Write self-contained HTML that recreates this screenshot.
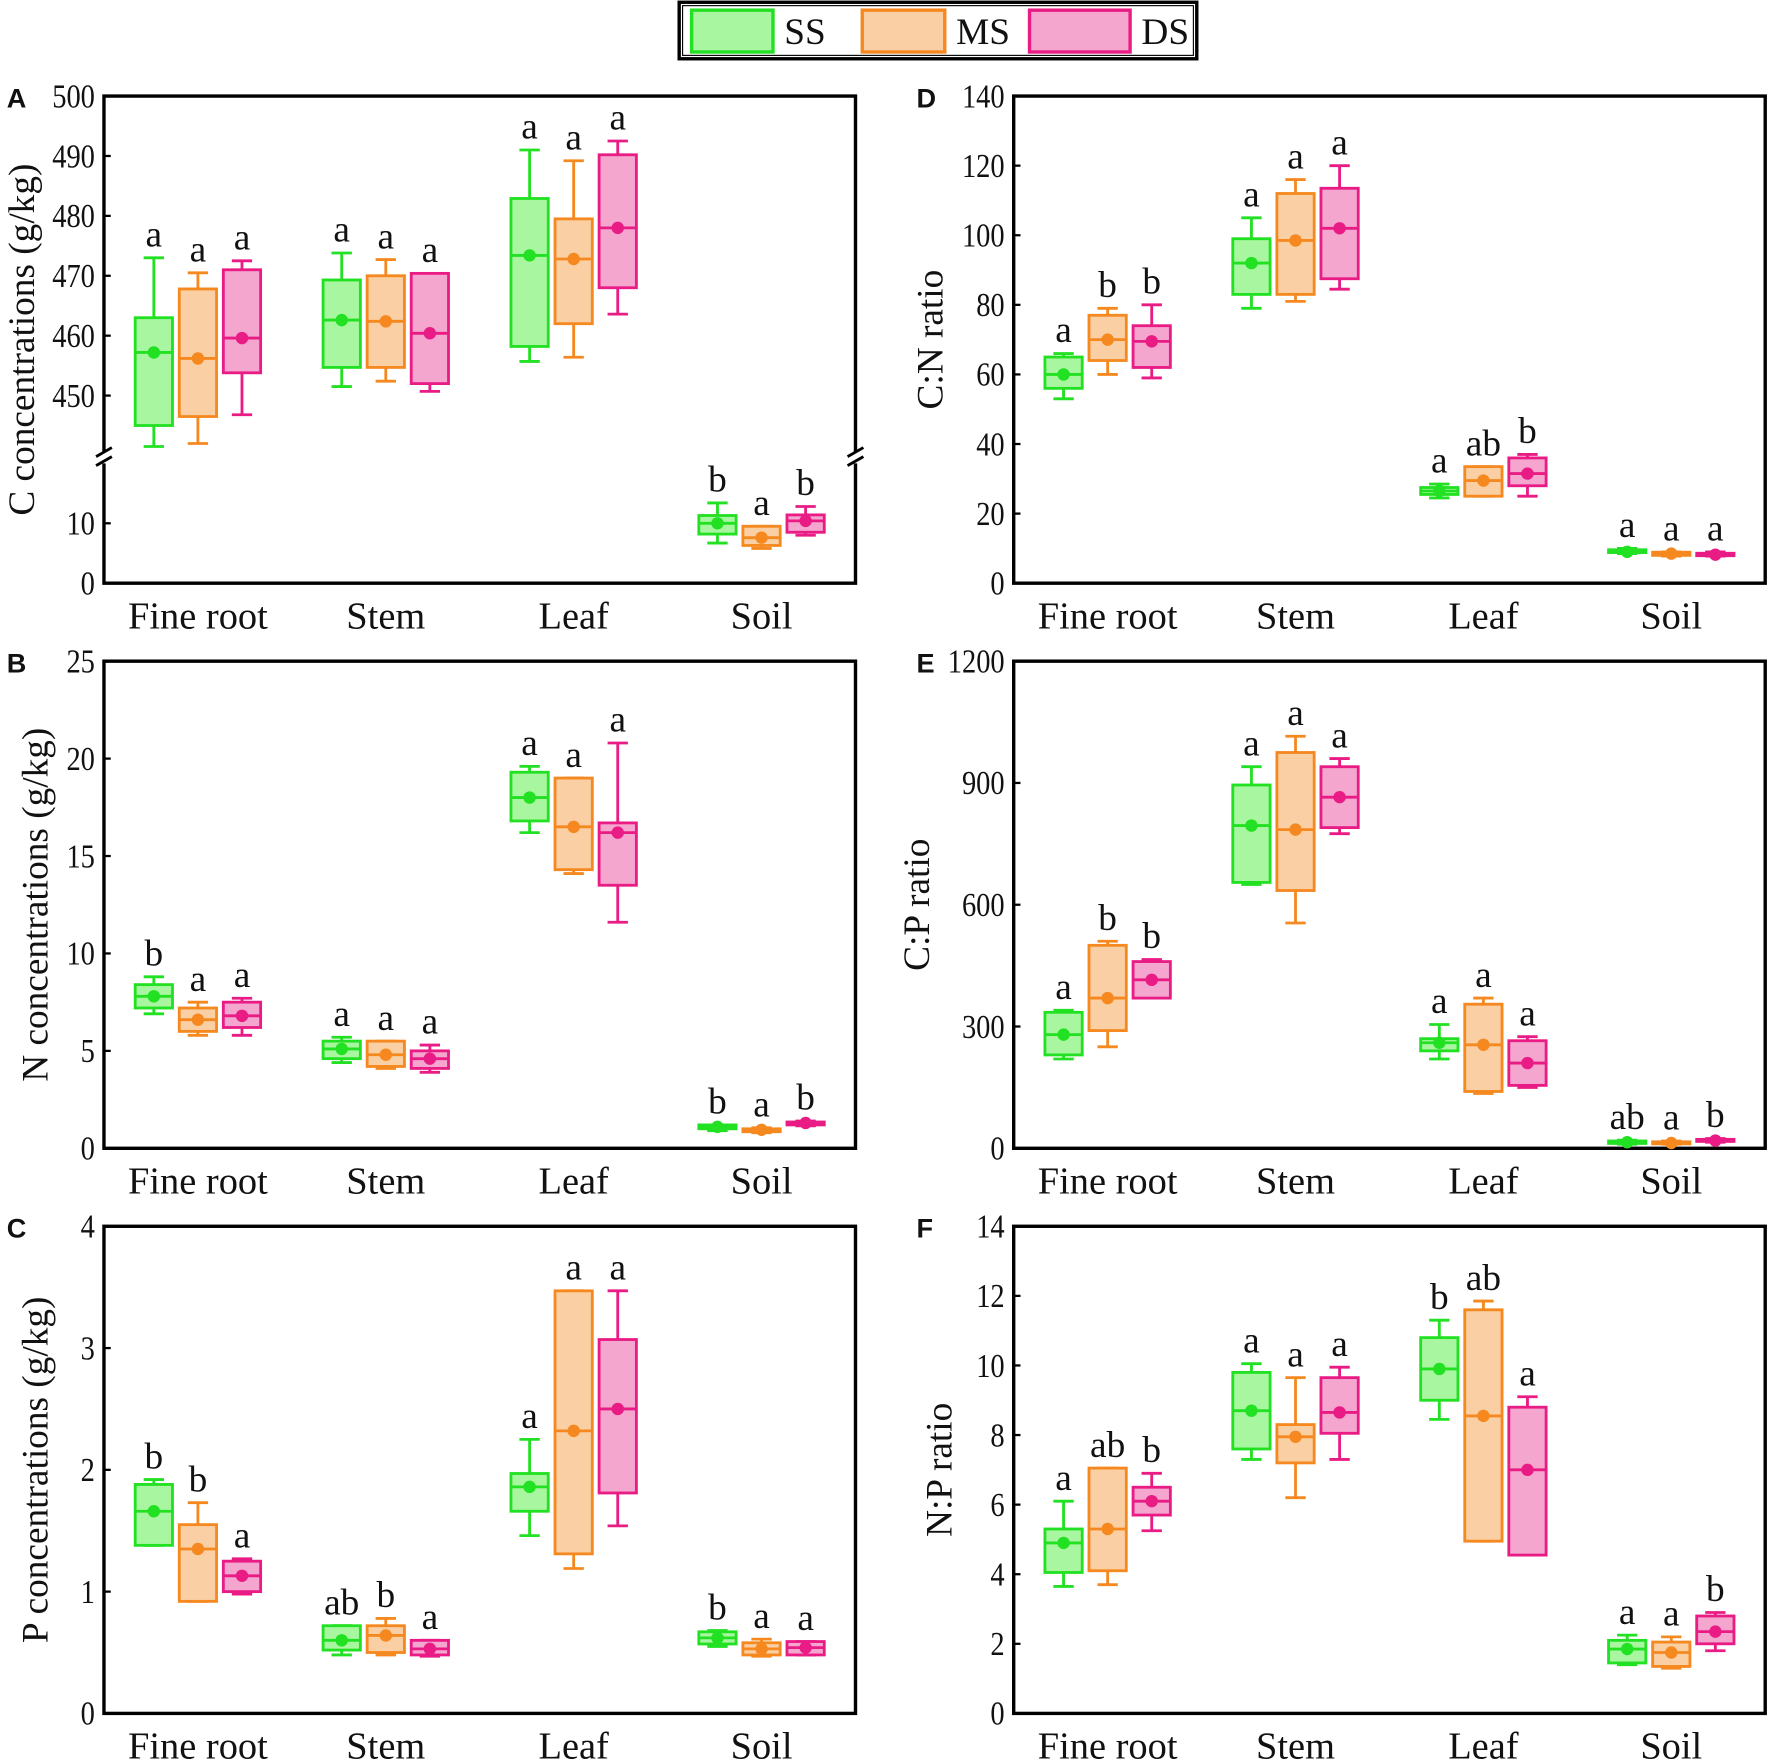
<!DOCTYPE html>
<html><head><meta charset="utf-8">
<style>
html,body{margin:0;padding:0;background:#fff;}
svg{display:block;}
text{font-family:"Liberation Serif",serif;fill:#111;}
.pl{font-family:"Liberation Sans",sans-serif;font-weight:bold;font-size:24px;}
</style></head>
<body>
<svg id="fig" width="1772" height="1762" viewBox="0 0 1568 1559" preserveAspectRatio="none" xmlns="http://www.w3.org/2000/svg">
<g>
<rect x="601" y="2" width="458" height="50" fill="#fff" stroke="#000" stroke-width="3"/>
<rect x="604" y="5" width="452" height="44" fill="none" stroke="#000" stroke-width="1"/>
<g><rect x="612" y="9" width="72" height="37" fill="#a8f7a0" stroke="#22e022" stroke-width="3"/><text x="694" y="39" font-size="33">SS</text></g>
<g><rect x="763" y="9" width="73" height="37" fill="#f9cfa3" stroke="#f5891f" stroke-width="3"/><text x="846" y="39" font-size="33">MS</text></g>
<g><rect x="911" y="9" width="89" height="37" fill="#f5a6cf" stroke="#e91b85" stroke-width="3"/><text x="1010" y="39" font-size="33">DS</text></g>
</g>
</svg>
<script>
const categories = ["Fine root","Stem","Leaf","Soil"];
const groups = ["SS","MS","DS"];
// each entry: [min, q1, median, q3, max] per category per group
const cData = [
 [[441.5,445,457.2,463,473],[442,446.5,456.2,467.8,470.5],[446.8,453.8,459.6,471,472.5]],
 [[451.5,454.7,462.6,469.3,473.8],[452.4,454.7,462.4,470,472.7],[450.7,452,460.4,470.4,470.4]],
 [[455.7,458.2,473.4,482.9,491],[456.4,462,472.8,479.5,489.2],[463.6,468,478,490.2,492.5]],
 [[6.7,8.2,10,11.3,13.4],[5.8,6.3,7.6,9.5,9.5],[8,8.5,10.4,11.4,12.8]]];
const cLetters = [["a","a","a"],["a","a","a"],["a","a","a"],["b","a","b"]];
const nData = [
 [[6.9,7.2,7.8,8.4,8.8],[5.8,6.0,6.6,7.2,7.5],[5.8,6.2,6.8,7.5,7.7]],
 [[4.4,4.6,5.1,5.5,5.7],[4.1,4.2,4.8,5.5,5.5],[3.9,4.1,4.6,5.0,5.3]],
 [[16.2,16.8,18,19.3,19.6],[14.1,14.3,16.5,19,19],[11.6,13.5,16.2,16.7,20.8]],
 [[0.9,1.0,1.1,1.2,1.2],[0.8,0.85,0.95,1.0,1.05],[1.15,1.2,1.3,1.35,1.4]]];
const nLetters = [["b","a","a"],["a","a","a"],["a","a","a"],["b","a","b"]];
const pData = [
 [[1.38,1.38,1.66,1.88,1.92],[0.92,0.92,1.35,1.55,1.73],[0.98,1.0,1.13,1.25,1.27]],
 [[0.48,0.52,0.6,0.72,0.72],[0.48,0.5,0.64,0.72,0.78],[0.47,0.48,0.53,0.6,0.6]],
 [[1.46,1.66,1.86,1.97,2.25],[1.19,1.31,2.32,3.47,3.47],[1.54,1.81,2.5,3.07,3.47]],
 [[0.55,0.57,0.62,0.67,0.68],[0.47,0.48,0.53,0.58,0.61],[0.48,0.48,0.54,0.59,0.59]]];
const pLetters = [["b","b","a"],["ab","b","a"],["a","a","a"],["b","a","a"]];
const cnData = [
 [[53,56,60,65,66],[60,64,70,77,79],[59,62,69.5,74,80]],
 [[79,83,92,99,105],[81,83,98.5,112,116],[84.5,87.5,102,113.5,120]],
 [[24.5,25.5,26.5,27.5,28.5],[25,25,29.5,33.5,33.5],[25,28,31.5,36,37]],
 [[8.5,8.8,9,9.6,10],[7.8,8,8.5,8.9,9],[7.8,7.9,8.2,8.6,9]]];
const cnLetters = [["a","b","b"],["a","a","a"],["a","ab","b"],["a","a","a"]];
const cpData = [
 [[220,230,280,335,340],[250,290,370,500,510],[370,370,415,460,465]],
 [[650,655,795,895,940],[555,635,785,975,1015],[775,790,865,940,960]],
 [[220,240,260,270,305],[135,140,255,355,370],[150,155,210,265,275]],
 [[10,12,15,18,20],[10,11,13,16,18],[15,17,19,22,24]]];
const cpLetters = [["a","b","b"],["a","a","a"],["a","a","a"],["ab","a","b"]];
const npData = [
 [[3.65,4.05,4.9,5.3,6.1],[3.7,4.1,5.3,7.05,7.05],[5.25,5.7,6.1,6.5,6.9]],
 [[7.3,7.6,8.7,9.8,10.05],[6.2,7.2,7.95,8.3,9.65],[7.3,8.05,8.65,9.65,9.95]],
 [[8.45,9.0,9.9,10.8,11.3],[4.95,4.95,8.55,11.6,11.85],[4.55,4.55,7.0,8.8,9.1]],
 [[1.4,1.45,1.85,2.1,2.25],[1.3,1.35,1.75,2.05,2.2],[1.8,2.0,2.35,2.8,2.9]]];
const npLetters = [["a","ab","b"],["a","a","a"],["b","ab","a"],["a","a","b"]];
const cTicks = [0,10,450,460,470,480,490,500];
const nTicks = [0,5,10,15,20,25];
const pTicks = [0,1,2,3,4];
const cnTicks = [0,20,40,60,80,100,120,140];
const cpTicks = [0,300,600,900,1200];
const npTicks = [0,2,4,6,8,10,12,14];

const NS="http://www.w3.org/2000/svg";
const svg=document.getElementById('fig');
const stroke=["#22e022","#f5891f","#e91b85"];
const fill=["#a8f7a0","#f9cfa3","#f5a6cf"];
function mk(tag,attrs,parent){const e=document.createElementNS(NS,tag);for(const k in attrs)e.setAttribute(k,attrs[k]);(parent||svg).appendChild(e);return e;}

function panel(o){
  const g=mk('g',{});
  
  
  const L=o.x,R=o.x+665,T=o.y,B=o.y+431;
  const y=o.scale;
  const xc=i=>L+(i+0.5)*665/4;
  mk('rect',{x:L,y:T,width:665,height:431,fill:'none',stroke:'#000','stroke-width':3},g);
  const pl=mk('text',{x:o.x-86,y:T+10,class:'pl'},g); pl.textContent=o.letter;
  
  
  o.ticks.forEach(t=>{
    const yy=y(t);
    mk('line',{x1:L,x2:L+6,y1:yy,y2:yy,stroke:'#000','stroke-width':2},g);
    const tx=mk('text',{x:L-8,y:yy+10,'font-size':30,'text-anchor':'end',transform:`translate(${L-8},0) scale(0.84,1) translate(${-(L-8)},0)`},g);
    tx.textContent=t;
    
    
  });
  const yt=mk('text',{x:0,y:0,'font-size':33,'text-anchor':'middle',transform:`translate(${o.titleX},${(T+B)/2}) rotate(-90)`},g);
  yt.textContent=o.title;
  
  
  categories.forEach((c,i)=>{
    const t=mk('text',{x:xc(i),y:B+40,'font-size':34,'text-anchor':'middle'},g);
    t.textContent=c;
    
    
    groups.forEach((gr,j)=>{
      const d=o.data[i][j];
      const cx=xc(i)+(j-1)*39, w=33;
      const bg=mk('g',{},g);
      
      
      const sw=2.5,col=stroke[j];
      mk('line',{x1:cx,x2:cx,y1:y(d[0]),y2:y(d[4]),stroke:col,'stroke-width':sw},bg);
      mk('line',{x1:cx-9,x2:cx+9,y1:y(d[0]),y2:y(d[0]),stroke:col,'stroke-width':sw},bg);
      mk('line',{x1:cx-9,x2:cx+9,y1:y(d[4]),y2:y(d[4]),stroke:col,'stroke-width':sw},bg);
      mk('rect',{x:cx-w/2,y:y(d[3]),width:w,height:Math.max(1,y(d[1])-y(d[3])),fill:fill[j],stroke:col,'stroke-width':sw},bg);
      mk('line',{x1:cx-w/2,x2:cx+w/2,y1:y(d[2]),y2:y(d[2]),stroke:col,'stroke-width':sw},bg);
      mk('circle',{cx:cx,cy:y(d[2]),r:5.5,fill:col},bg);
      const lt=mk('text',{x:cx,y:y(d[4])-10,'font-size':33,'text-anchor':'middle'},g);
      lt.textContent=o.letters[i][j];
      
      
    });
  });
  if(o.brk){
    [L,R].forEach(xx=>{
      mk('rect',{x:xx-6,y:o.brk-5,width:12,height:10,fill:'#fff'},g);
      mk('line',{x1:xx-7,y1:o.brk-1,x2:xx+7,y2:o.brk-9,stroke:'#000','stroke-width':2.5},g);
      mk('line',{x1:xx-7,y1:o.brk+7,x2:xx+7,y2:o.brk-1,stroke:'#000','stroke-width':2.5},g);
    });
  }
}
const lin=(T,max)=>v=>T+431-v*431/max;
panel({name:'panel-a-c-concentration',letter:'A',x:92,y:85,data:cData,letters:cLetters,ticks:cTicks,title:'C concentrations (g/kg)',titleX:30,brk:405,
  scale:v=>v>=100?85+(500-v)*5.3:516-v*5.3});
panel({name:'panel-b-n-concentration',letter:'B',x:92,y:585,data:nData,letters:nLetters,ticks:nTicks,title:'N concentrations (g/kg)',titleX:42,scale:lin(585,25)});
panel({name:'panel-c-p-concentration',letter:'C',x:92,y:1085,data:pData,letters:pLetters,ticks:pTicks,title:'P concentrations (g/kg)',titleX:42,scale:lin(1085,4)});
panel({name:'panel-d-cn-ratio',letter:'D',x:897,y:85,data:cnData,letters:cnLetters,ticks:cnTicks,title:'C:N ratio',titleX:834,scale:lin(85,140)});
panel({name:'panel-e-cp-ratio',letter:'E',x:897,y:585,data:cpData,letters:cpLetters,ticks:cpTicks,title:'C:P ratio',titleX:822,scale:lin(585,1200)});
panel({name:'panel-f-np-ratio',letter:'F',x:897,y:1085,data:npData,letters:npLetters,ticks:npTicks,title:'N:P ratio',titleX:842,scale:lin(1085,14)});
</script>
</body></html>
